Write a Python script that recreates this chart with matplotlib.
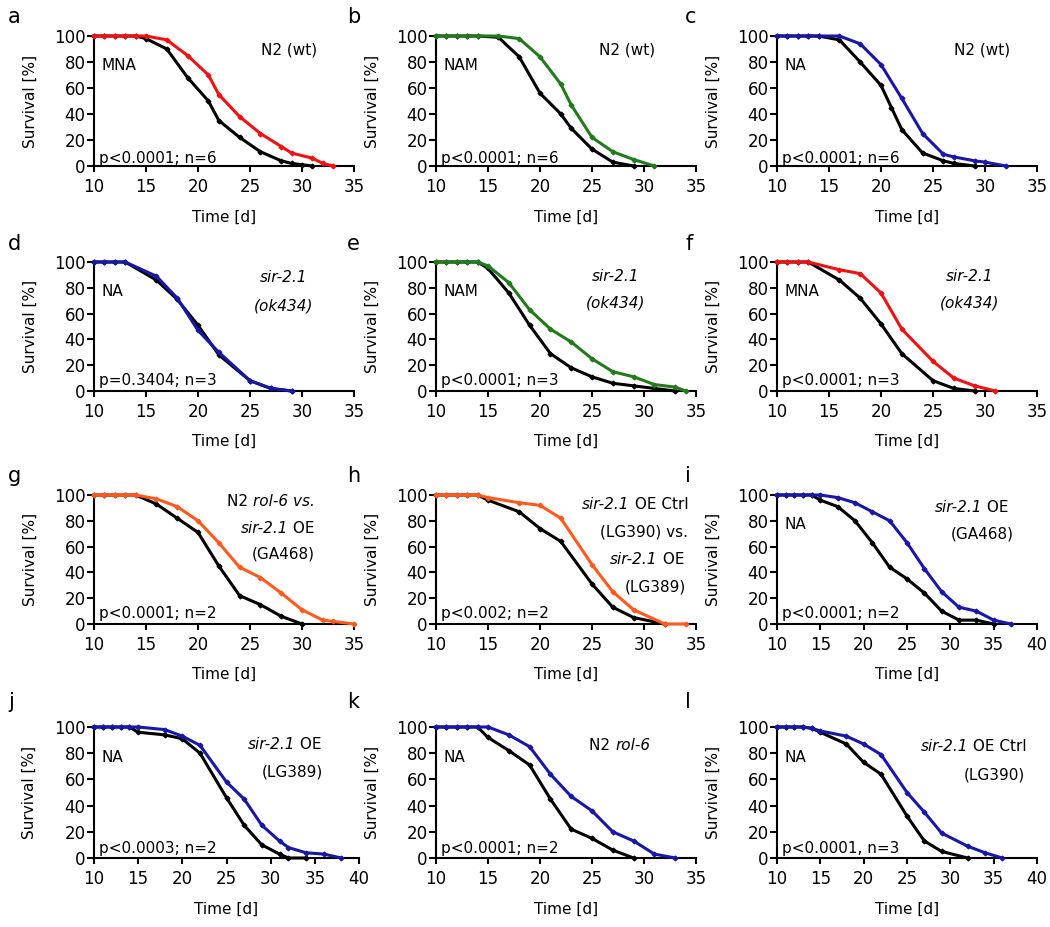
import matplotlib
matplotlib.use("Agg")
import matplotlib.pyplot as plt

plt.rcParams['font.family'] = ['DejaVu Sans']

W, H = 1050, 927

# survival data (days, % alive); ctrl = black, trt = coloured
a_ctrl_days = [10, 11, 12, 13, 14, 15, 17, 19, 21, 22, 24, 26, 28, 29, 30, 31]
a_ctrl_surv = [100, 100, 100, 100, 100, 98, 90, 68, 50, 35, 22, 11, 4, 2, 1, 0]
a_trt_days = [10, 11, 12, 13, 14, 15, 17, 19, 21, 22, 24, 26, 28, 29, 31, 32, 33]
a_trt_surv = [100, 100, 100, 100, 100, 100, 97, 85, 70, 55, 38, 25, 15, 10, 6, 2, 0]

b_ctrl_days = [10, 11, 12, 13, 14, 16, 18, 20, 22, 23, 25, 27, 29]
b_ctrl_surv = [100, 100, 100, 100, 100, 99, 84, 56, 40, 29, 13, 3, 0]
b_trt_days = [10, 11, 12, 13, 14, 16, 18, 20, 22, 23, 25, 27, 29, 31]
b_trt_surv = [100, 100, 100, 100, 100, 100, 98, 84, 63, 47, 22, 11, 5, 0]

c_ctrl_days = [10, 11, 12, 13, 14, 16, 18, 20, 21, 22, 24, 26, 27, 29]
c_ctrl_surv = [100, 100, 100, 100, 100, 97, 80, 62, 45, 28, 10, 4, 2, 0]
c_trt_days = [10, 11, 12, 13, 14, 16, 18, 20, 22, 24, 26, 27, 29, 30, 32]
c_trt_surv = [100, 100, 100, 100, 100, 100, 94, 78, 52, 25, 9, 7, 4, 3, 0]

d_ctrl_days = [10, 11, 12, 13, 16, 18, 20, 22, 25, 27, 29]
d_ctrl_surv = [100, 100, 100, 100, 86, 71, 51, 28, 8, 2, 0]
d_trt_days = [10, 11, 12, 13, 16, 18, 20, 22, 25, 27, 29]
d_trt_surv = [100, 100, 100, 100, 89, 72, 47, 30, 8, 2, 0]

e_ctrl_days = [10, 11, 12, 13, 14, 15, 17, 19, 21, 23, 25, 27, 29, 31, 33]
e_ctrl_surv = [100, 100, 100, 100, 100, 95, 76, 51, 29, 18, 11, 6, 4, 2, 0]
e_trt_days = [10, 11, 12, 13, 14, 15, 17, 19, 21, 23, 25, 27, 29, 31, 33, 34]
e_trt_surv = [100, 100, 100, 100, 100, 97, 84, 63, 48, 38, 25, 15, 11, 5, 3, 0]

f_ctrl_days = [10, 11, 12, 13, 16, 18, 20, 22, 25, 27, 29]
f_ctrl_surv = [100, 100, 100, 100, 86, 72, 52, 29, 8, 2, 0]
f_trt_days = [10, 11, 12, 13, 16, 18, 20, 22, 25, 27, 29, 31]
f_trt_surv = [100, 100, 100, 100, 94, 91, 76, 48, 23, 10, 4, 0]

g_ctrl_days = [10, 11, 12, 13, 14, 16, 18, 20, 22, 24, 26, 28, 30]
g_ctrl_surv = [100, 100, 100, 100, 100, 93, 82, 71, 45, 22, 15, 6, 0]
g_trt_days = [10, 11, 12, 13, 14, 16, 18, 20, 22, 24, 26, 28, 30, 32, 33, 35]
g_trt_surv = [100, 100, 100, 100, 100, 97, 91, 80, 63, 44, 36, 24, 11, 3, 2, 0]

h_ctrl_days = [10, 11, 12, 13, 14, 15, 18, 20, 22, 25, 27, 29, 32]
h_ctrl_surv = [100, 100, 100, 100, 100, 96, 87, 74, 64, 31, 13, 5, 0]
h_trt_days = [10, 11, 12, 13, 14, 15, 18, 20, 22, 25, 27, 29, 32, 34]
h_trt_surv = [100, 100, 100, 100, 100, 98, 94, 92, 82, 46, 25, 11, 0, 0]

i_ctrl_days = [10, 11, 12, 13, 14, 15, 17, 19, 21, 23, 25, 27, 29, 31, 33, 35]
i_ctrl_surv = [100, 100, 100, 100, 100, 96, 91, 80, 63, 44, 35, 24, 10, 3, 3, 0]
i_trt_days = [10, 11, 12, 13, 14, 15, 17, 19, 21, 23, 25, 27, 29, 31, 33, 35, 37]
i_trt_surv = [100, 100, 100, 100, 100, 100, 98, 94, 87, 80, 63, 43, 25, 13, 10, 3, 0]

j_ctrl_days = [10, 11, 12, 13, 14, 15, 18, 20, 22, 25, 27, 29, 31, 32, 34]
j_ctrl_surv = [100, 100, 100, 100, 100, 96, 94, 91, 80, 46, 25, 10, 3, 0, 0]
j_trt_days = [10, 11, 12, 13, 14, 15, 18, 20, 22, 25, 27, 29, 31, 32, 34, 36, 38]
j_trt_surv = [100, 100, 100, 100, 100, 100, 98, 93, 86, 58, 45, 25, 13, 8, 4, 3, 0]

k_ctrl_days = [10, 11, 12, 13, 14, 15, 17, 19, 21, 23, 25, 27, 29]
k_ctrl_surv = [100, 100, 100, 100, 100, 92, 82, 71, 45, 22, 15, 6, 0]
k_trt_days = [10, 11, 12, 13, 14, 15, 17, 19, 21, 23, 25, 27, 29, 31, 33]
k_trt_surv = [100, 100, 100, 100, 100, 100, 94, 85, 64, 47, 36, 20, 13, 3, 0]

l_ctrl_days = [10, 11, 12, 13, 14, 15, 18, 20, 22, 25, 27, 29, 32]
l_ctrl_surv = [100, 100, 100, 100, 99, 96, 87, 73, 64, 32, 13, 5, 0]
l_trt_days = [10, 11, 12, 13, 14, 15, 18, 20, 22, 25, 27, 29, 32, 34, 36]
l_trt_surv = [100, 100, 100, 100, 99, 97, 93, 87, 79, 50, 35, 19, 9, 4, 0]

p_texts = ["p<0.0001; n=6", "p<0.0001; n=6", "p<0.0001; n=6",
           "p=0.3404; n=3", "p<0.0001; n=3", "p<0.0001; n=3",
           "p<0.0001; n=2", "p<0.002; n=2", "p<0.0001; n=2",
           "p<0.0003; n=2", "p<0.0001; n=2", "p<0.0001, n=3"]
treatments = ["MNA", "NAM", "NA", "NA", "NAM", "MNA", "", "", "NA", "NA", "NA", "NA"]
x_max = [35, 35, 35, 35, 35, 35, 35, 35, 40, 40, 35, 40]

RED = '#f01212'
GREEN = '#227a1c'
BLUE = '#1818a8'
ORANGE = '#ff5a1e'

I, N = 'italic', 'normal'

panels = [
    dict(letter='a', ctrl=(a_ctrl_days, a_ctrl_surv), trt=(a_trt_days, a_trt_surv), color=RED,
         lines=[((0.75, 0.89), 'center', [("N2 (wt)", N)])]),
    dict(letter='b', ctrl=(b_ctrl_days, b_ctrl_surv), trt=(b_trt_days, b_trt_surv), color=GREEN,
         lines=[((0.735, 0.89), 'center', [("N2 (wt)", N)])]),
    dict(letter='c', ctrl=(c_ctrl_days, c_ctrl_surv), trt=(c_trt_days, c_trt_surv), color=BLUE,
         lines=[((0.79, 0.89), 'center', [("N2 (wt)", N)])]),
    dict(letter='d', ctrl=(d_ctrl_days, d_ctrl_surv), trt=(d_trt_days, d_trt_surv), color=BLUE,
         lines=[((0.73, 0.88), 'center', [("sir-2.1", I)]),
                ((0.73, 0.66), 'center', [("(ok434)", I)])]),
    dict(letter='e', ctrl=(e_ctrl_days, e_ctrl_surv), trt=(e_trt_days, e_trt_surv), color=GREEN,
         lines=[((0.69, 0.89), 'center', [("sir-2.1", I)]),
                ((0.69, 0.68), 'center', [("(ok434)", I)])]),
    dict(letter='f', ctrl=(f_ctrl_days, f_ctrl_surv), trt=(f_trt_days, f_trt_surv), color=RED,
         lines=[((0.74, 0.89), 'center', [("sir-2.1", I)]),
                ((0.74, 0.68), 'center', [("(ok434)", I)])]),
    dict(letter='g', ctrl=(g_ctrl_days, g_ctrl_surv), trt=(g_trt_days, g_trt_surv), color=ORANGE,
         lines=[((0.85, 0.95), 'right', [("N2 ", N), ("rol-6 vs.", I)]),
                ((0.85, 0.74), 'right', [("sir-2.1", I), (" OE", N)]),
                ((0.85, 0.54), 'right', [("(GA468)", N)])]),
    dict(letter='h', ctrl=(h_ctrl_days, h_ctrl_surv), trt=(h_trt_days, h_trt_surv), color=ORANGE,
         lines=[((0.97, 0.93), 'right', [("sir-2.1", I), (" OE Ctrl", N)]),
                ((0.97, 0.71), 'right', [("(LG390) vs.", N)]),
                ((0.955, 0.50), 'right', [("sir-2.1", I), (" OE", N)]),
                ((0.96, 0.29), 'right', [("(LG389)", N)])]),
    dict(letter='i', ctrl=(i_ctrl_days, i_ctrl_surv), trt=(i_trt_days, i_trt_surv), color=BLUE,
         lines=[((0.89, 0.90), 'right', [("sir-2.1", I), (" OE", N)]),
                ((0.91, 0.70), 'right', [("(GA468)", N)])]),
    dict(letter='j', ctrl=(j_ctrl_days, j_ctrl_surv), trt=(j_trt_days, j_trt_surv), color=BLUE,
         lines=[((0.86, 0.87), 'right', [("sir-2.1", I), (" OE", N)]),
                ((0.865, 0.66), 'right', [("(LG389)", N)])]),
    dict(letter='k', ctrl=(k_ctrl_days, k_ctrl_surv), trt=(k_trt_days, k_trt_surv), color=BLUE,
         lines=[((0.59, 0.86), 'left', [("N2 ", N), ("rol-6", I)])]),
    dict(letter='l', ctrl=(l_ctrl_days, l_ctrl_surv), trt=(l_trt_days, l_trt_surv), color=BLUE,
         lines=[((0.96, 0.85), 'right', [("sir-2.1", I), (" OE Ctrl", N)]),
                ((0.955, 0.63), 'right', [("(LG390)", N)])]),
]

col_left = [94, 436, 777]
row_top = [36, 262, 495, 727]
row_bot = [166, 391, 624, 858]
letter_x = [8, 347, 685]
letter_y = [17, 244, 476, 702]
p_y = [0.06, 0.085, 0.08, 0.076]

FS = 11


def rich(ax, x, y, parts, ha):
    # chain text pieces so mixed italic / upright runs sit on one line
    if ha == 'right':
        s, st = parts[-1]
        t = ax.text(x, y, s, style=st, transform=ax.transAxes, ha='right', va='center', fontsize=FS)
        for s, st in reversed(parts[:-1]):
            t = ax.annotate(s, xy=(0, 0.5), xycoords=t, ha='right', va='center', style=st, fontsize=FS)
    else:
        s, st = parts[0]
        t = ax.text(x, y, s, style=st, transform=ax.transAxes, ha=ha, va='center', fontsize=FS)
        for s, st in parts[1:]:
            t = ax.annotate(s, xy=(1, 0.5), xycoords=t, ha='left', va='center', style=st, fontsize=FS)


fig = plt.figure(figsize=(W / 100, H / 100), dpi=100)

for n, p in enumerate(panels):
    r, c = divmod(n, 3)
    width = 265 if p['letter'] == 'j' else 260
    left, top, bot = col_left[c], row_top[r], row_bot[r]
    ax = fig.add_axes([left / W, 1 - bot / H, width / W, (bot - top) / H])

    ax.plot(*p['ctrl'], color='black', lw=2.2, marker='D', ms=2.4, clip_on=False, zorder=3)
    ax.plot(*p['trt'], color=p['color'], lw=2.2, marker='D', ms=2.4, clip_on=False, zorder=4)

    xm = x_max[n]
    ax.set_xlim(10, xm)
    ax.set_ylim(0, 100)
    ax.set_xticks(range(10, xm + 1, 5))
    ax.set_yticks(range(0, 101, 20))
    for side in ['top', 'right']:
        ax.spines[side].set_visible(False)
    for side in ['left', 'bottom']:
        ax.spines[side].set_linewidth(1.5)
    ax.tick_params(axis='both', direction='out', width=1.5, labelsize=12)
    ax.tick_params(axis='y', length=5, pad=1)
    ax.tick_params(axis='x', length=4.5, pad=4)

    ax.set_ylabel('Survival [%]', fontsize=FS)
    ax.yaxis.set_label_coords(-0.215, 0.5)
    ax.set_xlabel('Time [d]', fontsize=FS)
    ax.xaxis.set_label_coords(0.5, -0.335)

    if treatments[n]:
        ax.text(0.03, 0.77, treatments[n], transform=ax.transAxes, ha='left', va='center', fontsize=FS)
    ax.text(0.02, p_y[r], p_texts[n], transform=ax.transAxes, ha='left', va='center', fontsize=FS)
    for (x, y), ha, parts in p['lines']:
        rich(ax, x, y, parts, ha)

    fig.text(letter_x[c] / W, 1 - letter_y[r] / H, p['letter'], fontsize=15, ha='left', va='center')

fig.savefig('out.png', dpi=100)
